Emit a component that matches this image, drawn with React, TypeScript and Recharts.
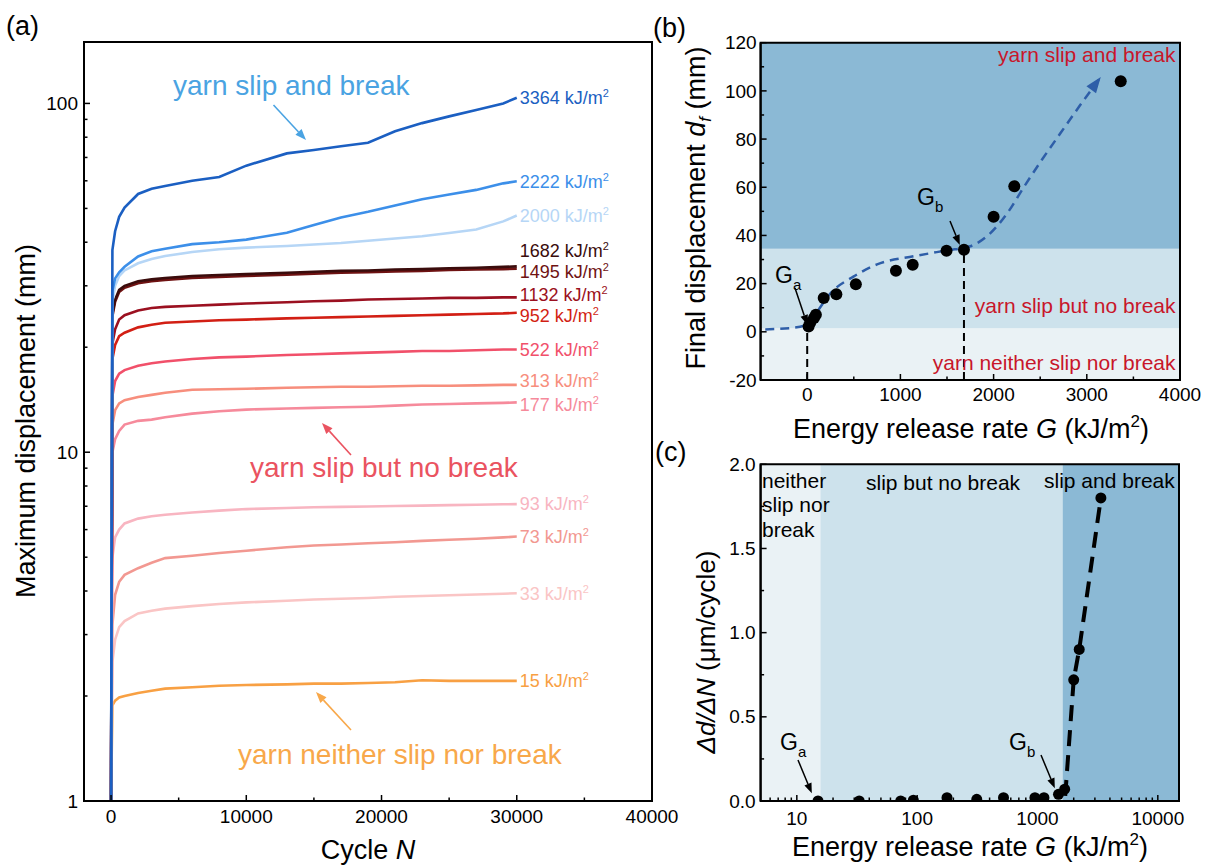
import React from 'react';
import { LineChart, ComposedChart, Line, Scatter, XAxis, YAxis, ReferenceArea, ReferenceLine } from 'recharts';

const FONT = '"Liberation Sans", Arial, Helvetica, sans-serif';
const W = 1213;
const H = 867;

// energy release rates G (kJ/m2) of the tests
const energyRates = [15, 33, 73, 93, 177, 313, 522, 952, 1132, 1495, 1682, 2000, 2222, 3364];

// (a) maximum displacement (mm) vs cycle N
const cycles = [0, 100, 300, 600, 1000, 2000, 3000, 4000, 6000, 8000, 10000, 13000, 15000, 17000, 19000, 21000, 23000, 25000, 27000, 29000, 30000];
const disp15 = [1, 1.88, 1.94, 1.98, 2.0, 2.04, 2.07, 2.1, 2.12, 2.14, 2.15, 2.16, 2.17, 2.17, 2.18, 2.19, 2.22, 2.21, 2.21, 2.21, 2.21];
const disp33 = [1, 2.5, 2.9, 3.15, 3.28, 3.45, 3.51, 3.56, 3.62, 3.67, 3.71, 3.75, 3.78, 3.8, 3.82, 3.85, 3.87, 3.89, 3.91, 3.93, 3.94];
const disp73 = [1, 3.2, 3.9, 4.25, 4.45, 4.65, 4.82, 4.97, 5.05, 5.14, 5.22, 5.34, 5.4, 5.44, 5.48, 5.52, 5.57, 5.61, 5.65, 5.7, 5.73];
const disp93 = [1, 5.0, 5.7, 6.0, 6.25, 6.45, 6.55, 6.62, 6.72, 6.8, 6.87, 6.92, 6.95, 6.97, 6.99, 7.01, 7.03, 7.05, 7.07, 7.09, 7.1];
const disp177 = [1, 10, 10.9, 11.5, 12.0, 12.3, 12.4, 12.6, 12.9, 13.1, 13.25, 13.35, 13.4, 13.45, 13.5, 13.6, 13.7, 13.75, 13.8, 13.85, 13.9];
const disp313 = [1, 12, 13.2, 13.8, 14.1, 14.4, 14.6, 14.8, 15.1, 15.15, 15.2, 15.3, 15.35, 15.4, 15.4, 15.45, 15.5, 15.5, 15.55, 15.6, 15.6];
const disp522 = [1, 14.5, 16, 16.8, 17.2, 17.7, 18, 18.2, 18.5, 18.7, 18.8, 19, 19.1, 19.2, 19.3, 19.4, 19.5, 19.5, 19.6, 19.7, 19.7];
const disp952 = [1, 18.5, 20.3, 21.5, 22, 22.8, 23.2, 23.5, 23.7, 23.9, 24, 24.2, 24.3, 24.4, 24.5, 24.6, 24.7, 24.8, 24.9, 25, 25.1];
const disp1132 = [1, 20.5, 22.5, 24, 24.7, 25.5, 25.9, 26.1, 26.3, 26.5, 26.7, 26.9, 27.1, 27.2, 27.4, 27.5, 27.6, 27.7, 27.7, 27.8, 27.8];
const disp1495 = [1, 24.5, 27, 28.8, 29.6, 30.5, 30.9, 31.2, 31.6, 31.8, 32, 32.3, 32.5, 32.7, 32.8, 33, 33.1, 33.3, 33.4, 33.5, 33.6];
const disp1682 = [1, 25, 27.4, 29.2, 30, 30.9, 31.3, 31.6, 32, 32.2, 32.4, 32.7, 32.9, 33.1, 33.2, 33.4, 33.5, 33.7, 33.8, 34, 34.1];
const disp2000 = [1, 27, 30, 32, 33.2, 34.8, 35.8, 36.5, 37.5, 38.2, 38.6, 39, 39.4, 39.8, 40.4, 41, 41.6, 42.5, 43.5, 45.9, 47.7];
const disp2222 = [1, 29, 31.5, 32.8, 34, 36.4, 37.7, 38.3, 39.5, 40, 40.7, 42.6, 44.8, 47.1, 48.9, 51, 53.1, 54.8, 56.5, 59, 59.8];
const disp3364 = [1, 38, 43, 47.3, 50.3, 55, 56.9, 58, 60, 61.5, 66.3, 71.9, 73.5, 75.4, 77.1, 83.2, 87.8, 91.8, 95.7, 100, 103.8];
const curves = [disp15, disp33, disp73, disp93, disp177, disp313, disp522, disp952, disp1132, disp1495, disp1682, disp2000, disp2222, disp3364];

// (b) final displacement and fitted trend
const finalDisp = [2.2, 3.9, 5.7, 7.1, 14.0, 15.6, 19.7, 25.3, 27.8, 33.6, 34.1, 47.8, 60.4, 104];
const trendG = [-450, -150, 0, 100, 250, 500, 750, 1150, 1500, 1750, 1950, 2150, 2330, 2520, 2720, 2920, 3150];
const trendDisp = [1.0, 1.7, 3.0, 8, 16, 23, 28, 31.4, 33.8, 35.5, 40.4, 49.4, 60.4, 71.5, 82.6, 93.6, 105.8];

// (c) displacement rate (um/cycle)
const slipRate = [0, 0, 0, 0.005, 0.02, 0.01, 0.02, 0.02, 0.02, 0.04, 0.07, 0.72, 0.9, 1.8];
const rateFitG = [1700, 2000, 2222, 3364];
const rateFit = [0.03, 0.72, 0.9, 1.8];

// thresholds
const Ga = 15.7;
const Gb = 1682;
const dfA = 1.5;
const dfB = 34.5;

// ticks
const xTicksA = [0, 5000, 10000, 15000, 20000, 25000, 30000, 35000, 40000];
const yTicksA = [1, 2, 3, 4, 5, 6, 7, 8, 9, 10, 20, 30, 40, 50, 60, 70, 80, 90, 100];
const xTicksB = [0, 500, 1000, 1500, 2000, 2500, 3000, 3500, 4000];
const yTicksB = [-20, -10, 0, 10, 20, 30, 40, 50, 60, 70, 80, 90, 100, 110, 120];
const xTicksC = [6, 7, 8, 9, 10, 20, 30, 40, 50, 60, 70, 80, 90, 100, 200, 300, 400, 500, 600, 700, 800, 900, 1000, 2000, 3000, 4000, 5000, 6000, 7000, 8000, 9000, 10000];
const yTicksC = [0, 0.25, 0.5, 0.75, 1, 1.25, 1.5, 1.75, 2];

const curveColors = ['#f8a043', '#fac5c5', '#f29891', '#f8b5c1', '#f68a9b', '#f78e7d', '#f1506a', '#d21f14', '#9b1020', '#6f1212', '#3a0c0c', '#b6d6f6', '#3c8fe9', '#1b5fc2'];
// vertical nudges (px) of the end labels, as placed in the original figure
const labelShift = [0, 0, 0, 0, 2, -4, 0, 2.5, -3, 3, -16, 0, 0, 0];

const bandLight = '#eaf2f5';
const bandMid = '#cde2ec';
const bandDark = '#8bb9d5';
const noteRed = '#c8162a';

const isMajorDecade = (v: number) => Math.abs(Math.log10(v) - Math.round(Math.log10(v))) < 1e-9;

const yTick = (isMajor: (v: number) => boolean, fmt: (v: number) => string, gap: number) => (p: any) => {
  const { x, y, payload } = p;
  const v = payload.value;
  const major = isMajor(v);
  const ax = x + gap;
  return (
    <g>
      <line x1={ax} x2={ax + (major ? 6 : 3.5)} y1={y} y2={y} stroke="#000" strokeWidth={1.5} />
      {major && (
        <text x={x} y={y} dy="0.35em" textAnchor="end" fontSize={19} fontFamily={FONT} fill="#000">
          {fmt(v)}
        </text>
      )}
    </g>
  );
};

const xTick = (isMajor: (v: number) => boolean, fmt: (v: number) => string, gap: number) => (p: any) => {
  const { x, y, payload } = p;
  const v = payload.value;
  const major = isMajor(v);
  const ay = y - gap;
  return (
    <g>
      <line x1={x} x2={x} y1={ay} y2={ay - (major ? 6 : 3.5)} stroke="#000" strokeWidth={1.5} />
      {major && (
        <text x={x} y={y} dy="0.71em" textAnchor="middle" fontSize={19} fontFamily={FONT} fill="#000">
          {fmt(v)}
        </text>
      )}
    </g>
  );
};

const Arrow = ({ x1, y1, x2, y2, color, w = 1.6, head = 11 }: any) => {
  const dx = x2 - x1;
  const dy = y2 - y1;
  const L = Math.hypot(dx, dy);
  const ux = dx / L;
  const uy = dy / L;
  const bx = x2 - ux * head;
  const by = y2 - uy * head;
  const hw = head * 0.38;
  return (
    <g>
      <line x1={x1} y1={y1} x2={bx} y2={by} stroke={color} strokeWidth={w} />
      <polygon points={`${x2},${y2} ${bx - uy * hw},${by + ux * hw} ${bx + uy * hw},${by - ux * hw}`} fill={color} />
    </g>
  );
};

const axisStyle = { stroke: '#000', strokeWidth: 2 };
const abs: React.CSSProperties = { position: 'absolute', left: 0, top: 0 };

const PanelA = () => {
  const last = cycles.length - 1;
  return (
    <div style={abs}>
      <LineChart width={W} height={H} margin={{ top: 42, left: 34, right: 561, bottom: 26 }}>
        <ReferenceArea x1={-2000} x2={40000} y1={1} y2={150} fill="none" stroke="#000" strokeWidth={2} ifOverflow="visible" />
        <XAxis type="number" dataKey="n" domain={[-2000, 40000]} allowDataOverflow ticks={xTicksA} interval={0}
          tickSize={0} tickMargin={9} height={40} axisLine={axisStyle}
          tick={xTick((v) => v % 10000 === 0, (v) => String(v), 9)} />
        <YAxis type="number" scale="log" domain={[1, 150]} allowDataOverflow ticks={yTicksA} interval={0}
          tickSize={0} tickMargin={6} width={50} axisLine={axisStyle}
          tick={yTick(isMajorDecade, (v) => String(v), 6)} />
        {curves.map((vals, k) => (
          <Line
            key={energyRates[k]}
            data={cycles.map((n, i) => ({ n, d: vals[i] }))}
            dataKey="d"
            type="linear"
            stroke={curveColors[k]}
            strokeWidth={2.6}
            isAnimationActive={false}
            dot={(p: any) =>
              p.index === last ? (
                <text key={`lab-${k}`} x={p.cx + 3} y={p.cy + labelShift[k]} dy="0.35em" fontSize={18} fontFamily={FONT} fill={curveColors[k]}>
                  {`${energyRates[k]} kJ/m`}
                  <tspan dy={-7} fontSize={11}>2</tspan>
                </text>
              ) : (
                <g key={`d-${k}-${p.index}`} />
              )
            }
            activeDot={false}
          />
        ))}
      </LineChart>
    </div>
  );
};

const PanelB = () => {
  const pts = energyRates.map((g, i) => ({ g, d: finalDisp[i] }));
  const trend = trendG.map((g, i) => ({ g, d: trendDisp[i] }));
  const lastT = trend.length - 1;
  return (
    <div style={abs}>
      <ComposedChart width={W} height={H} margin={{ top: 42.7, left: 710.6, right: 33, bottom: 447 }}>
        <ReferenceArea x1={-500} x2={4000} y1={-20} y2={dfA} fill={bandLight} fillOpacity={1} stroke="none" ifOverflow="visible" />
        <ReferenceArea x1={-500} x2={4000} y1={dfA} y2={dfB} fill={bandMid} fillOpacity={1} stroke="none" ifOverflow="visible" />
        <ReferenceArea x1={-500} x2={4000} y1={dfB} y2={120} fill={bandDark} fillOpacity={1} stroke="none" ifOverflow="visible" />
        <ReferenceArea x1={-500} x2={4000} y1={-20} y2={120} fill="none" stroke="#000" strokeWidth={2} ifOverflow="visible" />
        <XAxis type="number" dataKey="g" domain={[-500, 4000]} allowDataOverflow ticks={xTicksB} interval={0}
          tickSize={0} tickMargin={8} height={40} axisLine={axisStyle}
          tick={xTick((v) => v % 1000 === 0, (v) => String(v), 8)} />
        <YAxis type="number" dataKey="d" domain={[-20, 120]} allowDataOverflow ticks={yTicksB} interval={0}
          tickSize={0} tickMargin={4} width={50} axisLine={axisStyle}
          tick={yTick((v) => v % 20 === 0, (v) => String(v), 4)} />
        <ReferenceLine segment={[{ x: 0, y: -20 }, { x: 0, y: 2 }]} stroke="#000" strokeWidth={2} strokeDasharray="8 5" ifOverflow="visible" />
        <ReferenceLine segment={[{ x: Gb, y: -20 }, { x: Gb, y: dfB }]} stroke="#000" strokeWidth={2} strokeDasharray="8 5" ifOverflow="visible" />
        <Line
          data={trend}
          dataKey="d"
          type="monotone"
          stroke="#2e5ea8"
          strokeWidth={2.5}
          strokeDasharray="9 6"
          isAnimationActive={false}
          activeDot={false}
          dot={(p: any) => {
            if (p.index !== lastT) return <g key={`t-${p.index}`} />;
            const ux = 0.597;
            const uy = -0.802;
            const bx = p.cx - ux * 16;
            const by = p.cy - uy * 16;
            return (
              <polygon key="arrow" fill="#2e5ea8"
                points={`${p.cx},${p.cy} ${bx - uy * 6},${by + ux * 6} ${bx + uy * 6},${by - ux * 6}`} />
            );
          }}
        />
        <Scatter data={pts} dataKey="d" isAnimationActive={false}
          shape={(p: any) => <circle cx={p.cx} cy={p.cy} r={6} fill="#000" />} />
      </ComposedChart>
    </div>
  );
};

const PanelC = () => {
  const pts = energyRates.map((g, i) => ({ g, d: slipRate[i] }));
  const fit = rateFitG.map((g, i) => ({ g, d: rateFit[i] }));
  return (
    <div style={abs}>
      <ComposedChart width={W} height={H} margin={{ top: 464.3, left: 710.6, right: 34, bottom: 26 }}>
        <ReferenceArea x1={5} x2={Ga} y1={0} y2={2} fill={bandLight} fillOpacity={1} stroke="none" ifOverflow="visible" />
        <ReferenceArea x1={Ga} x2={1618} y1={0} y2={2} fill={bandMid} fillOpacity={1} stroke="none" ifOverflow="visible" />
        <ReferenceArea x1={1618} x2={15000} y1={0} y2={2} fill={bandDark} fillOpacity={1} stroke="none" ifOverflow="visible" />
        <ReferenceArea x1={5} x2={15000} y1={0} y2={2} fill="none" stroke="#000" strokeWidth={2} ifOverflow="visible" />
        <XAxis type="number" dataKey="g" scale="log" domain={[5, 15000]} allowDataOverflow ticks={xTicksC} interval={0}
          tickSize={0} tickMargin={11} height={40} axisLine={axisStyle}
          tick={xTick(isMajorDecade, (v) => String(v), 11)} />
        <YAxis type="number" dataKey="d" domain={[0, 2]} allowDataOverflow ticks={yTicksC} interval={0}
          tickSize={0} tickMargin={5} width={50} axisLine={axisStyle}
          tick={yTick((v) => Math.abs(v * 2 - Math.round(v * 2)) < 1e-9, (v) => v.toFixed(1), 5)} />
        <Line data={fit} dataKey="d" type="linear" stroke="#000" strokeWidth={4} strokeDasharray="16 9"
          dot={false} activeDot={false} isAnimationActive={false} />
        <Scatter data={pts} dataKey="d" isAnimationActive={false}
          shape={(p: any) => <circle cx={p.cx} cy={p.cy} r={5.5} fill="#000" />} />
      </ComposedChart>
    </div>
  );
};

const Overlay = () => (
  <svg width={W} height={H} style={{ ...abs, pointerEvents: 'none' }} fontFamily={FONT}>
    {/* panel letters */}
    <text x={6} y={35} fontSize={27}>(a)</text>
    <text x={653} y={37} fontSize={27}>(b)</text>
    <text x={655} y={461} fontSize={27}>(c)</text>

    {/* (a) titles */}
    <text transform="translate(35,421) rotate(-90)" textAnchor="middle" fontSize={27}>Maximum displacement (mm)</text>
    <text x={368} y={859} textAnchor="middle" fontSize={27}>
      Cycle <tspan fontStyle="italic">N</tspan>
    </text>

    {/* (a) notes */}
    <text x={173} y={95} fontSize={28} fill="#4aa3e2">yarn slip and break</text>
    <Arrow x1={273.5} y1={105} x2={306} y2={140} color="#4aa3e2" />
    <text x={250} y={477} fontSize={28} fill="#ea5360">yarn slip but no break</text>
    <Arrow x1={351} y1={455} x2={322} y2={423} color="#ea5360" />
    <text x={238} y={764} fontSize={28} fill="#f8a84a">yarn neither slip nor break</text>
    <Arrow x1={351} y1={730} x2={316} y2={692} color="#f8a84a" />

    {/* (b) titles */}
    <text transform="translate(705,208) rotate(-90)" textAnchor="middle" fontSize={27}>
      Final displacement <tspan fontStyle="italic">d</tspan>
      <tspan fontStyle="italic" fontSize={17} dy={6}>f</tspan>
      <tspan dy={-6}> (mm)</tspan>
    </text>
    <text x={971} y={438} textAnchor="middle" fontSize={27}>
      Energy release rate <tspan fontStyle="italic">G</tspan> (kJ/m<tspan fontSize={17} dy={-11}>2</tspan>
      <tspan dy={11}>)</tspan>
    </text>

    {/* (b) notes */}
    <text x={1175.5} y={62} textAnchor="end" fontSize={21} fill={noteRed}>yarn slip and break</text>
    <text x={1175.5} y={313} textAnchor="end" fontSize={21} fill={noteRed}>yarn slip but no break</text>
    <text x={1175.5} y={370} textAnchor="end" fontSize={21} fill={noteRed}>yarn neither slip nor break</text>
    <text x={775} y={283} fontSize={23}>G<tspan fontSize={15} dy={7}>a</tspan></text>
    <Arrow x1={795} y1={288} x2={807.4} y2={325} color="#000" w={1.5} head={10} />
    <text x={917} y={205} fontSize={23}>G<tspan fontSize={15} dy={7}>b</tspan></text>
    <Arrow x1={950} y1={221} x2={959.8} y2={245} color="#000" w={1.5} head={10} />

    {/* (c) titles */}
    <text transform="translate(715,652) rotate(-90)" textAnchor="middle" fontSize={26}>
      <tspan fontStyle="italic">Δd/ΔN</tspan> (μm/cycle)
    </text>
    <text x={970} y={856} textAnchor="middle" fontSize={27}>
      Energy release rate <tspan fontStyle="italic">G</tspan> (kJ/m<tspan fontSize={17} dy={-11}>2</tspan>
      <tspan dy={11}>)</tspan>
    </text>

    {/* (c) notes */}
    <text x={762} y={488} fontSize={21}>neither</text>
    <text x={762} y={512} fontSize={21}>slip nor</text>
    <text x={762} y={537} fontSize={21}>break</text>
    <text x={866} y={490} fontSize={21}>slip but no break</text>
    <text x={1044} y={488} fontSize={21}>slip and break</text>
    <text x={780} y={750} fontSize={23}>G<tspan fontSize={15} dy={7}>a</tspan></text>
    <Arrow x1={798} y1={760} x2={811.8} y2={793.3} color="#000" w={1.5} head={10} />
    <text x={1009} y={750} fontSize={23}>G<tspan fontSize={15} dy={7}>b</tspan></text>
    <Arrow x1={1041} y1={755} x2={1054.8} y2={788.3} color="#000" w={1.5} head={10} />
  </svg>
);

export default function App() {
  return (
    <div style={{ position: 'absolute', left: 0, top: 0, width: W, height: H, background: '#fff', fontFamily: FONT }}>
      <PanelA />
      <PanelB />
      <PanelC />
      <Overlay />
    </div>
  );
}
